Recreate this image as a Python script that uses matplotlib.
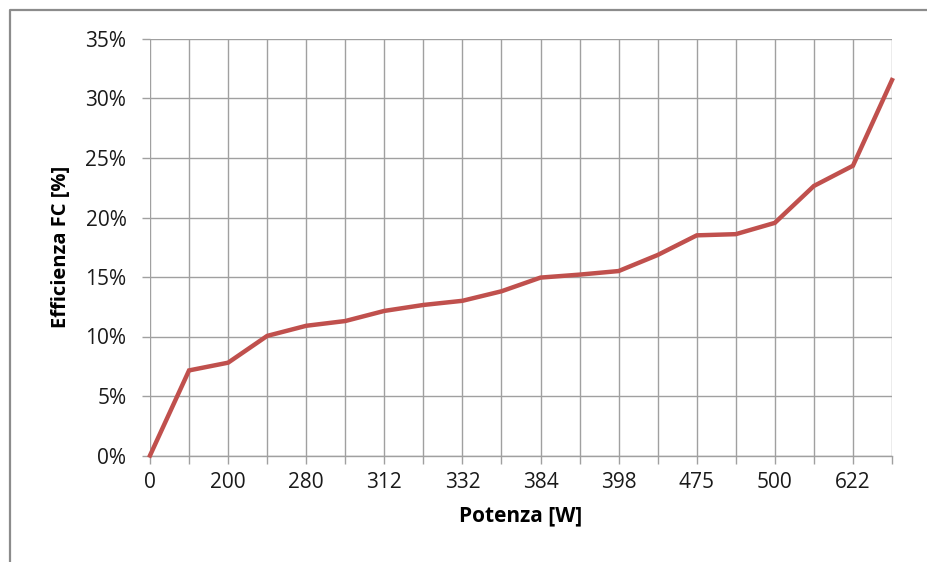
import numpy as np
import matplotlib.pyplot as plt
from matplotlib.lines import Line2D
from matplotlib.ticker import FuncFormatter, MultipleLocator


# power levels [W]; only every other category carries a label on the axis
potenza_labels = ['0', '', '200', '', '280', '', '312', '', '332', '',
                  '384', '', '398', '', '475', '', '500', '', '622', '']

# fuel cell efficiency, in percent
efficienza = [0.0, 7.15, 7.8, 10.05, 10.9, 11.3, 12.15, 12.65, 13.0, 13.8,
              14.95, 15.2, 15.5, 16.85, 18.5, 18.6, 19.55, 22.65, 24.35, 31.55]

LINE_RED = '#C0504D'
GRID_GREY = '#a0a0a0'


def make_plot(fname='out.png'):
    plt.rcParams['font.family'] = ['Open Sans', 'DejaVu Sans']

    fig = plt.figure(figsize=(9.27, 5.62), dpi=100)
    ax = fig.add_axes([150 / 927, 1 - 455.5 / 562, 742 / 927, 416.5 / 562])

    x = np.arange(len(efficienza))
    y = np.array(efficienza) / 100.0
    ax.plot(x, y, color=LINE_RED, lw=3.2, solid_joinstyle='miter', zorder=3,
            clip_on=False)

    ax.set_xlim(0, len(efficienza) - 1)
    ax.set_ylim(0, 0.35)
    ax.set_xticks(x)
    ax.set_xticklabels(potenza_labels)
    ax.yaxis.set_major_locator(MultipleLocator(0.05))
    ax.yaxis.set_major_formatter(FuncFormatter(lambda v, _: f'{v * 100:.0f}%'))

    ax.grid(True, color=GRID_GREY, lw=1.0)
    ax.set_axisbelow(True)
    for side in ['top', 'left', 'right']:
        ax.spines[side].set_visible(False)
    ax.spines['bottom'].set_color(GRID_GREY)
    ax.spines['bottom'].set_linewidth(1.0)

    ax.tick_params(axis='both', direction='out', length=6, width=1.0,
                   color=GRID_GREY, labelsize=15, labelcolor='#1a1a1a')
    ax.tick_params(axis='y', pad=11)
    ax.tick_params(axis='x', pad=6)

    ax.set_xlabel('Potenza [W]', fontsize=15, fontweight='bold', labelpad=9)
    ax.set_ylabel('Efficienza FC [%]', fontsize=14.5, fontweight='bold', labelpad=10)

    # chart frame, only top and left edges fall inside the image
    fx = 10 / 927
    fy = 1 - 10 / 562
    fig.add_artist(Line2D([fx, fx, 1.0], [0.0, fy, fy], transform=fig.transFigure,
                          color='#8c8c8c', lw=1.6))

    fig.savefig(fname, dpi=100)
    plt.close(fig)


if __name__ == '__main__':
    make_plot()
